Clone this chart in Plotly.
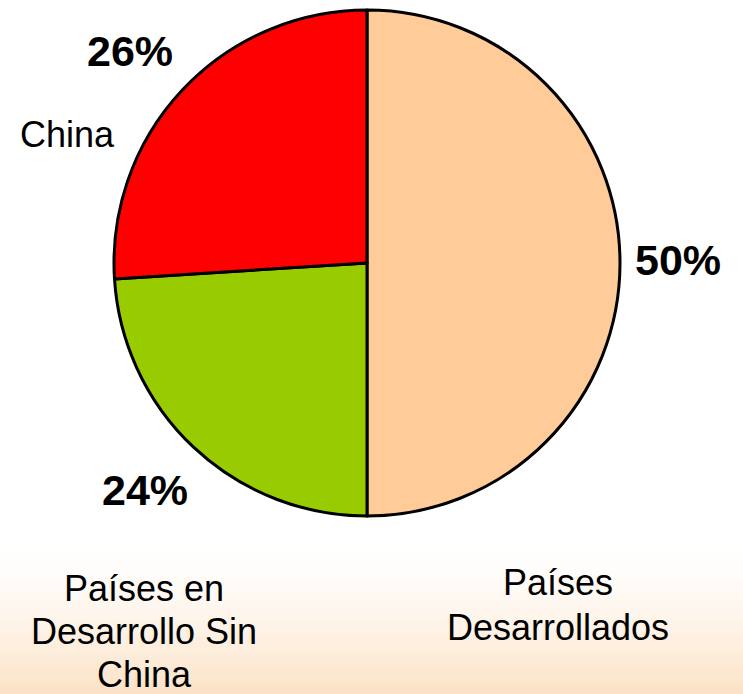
import plotly.graph_objects as go

# Data
categories = ["Países Desarrollados", "Países en Desarrollo Sin China", "China"]
values = [50, 24, 26]
pct_labels = ["50%", "24%", "26%"]
colors = ["#FFCC99", "#99CC00", "#FF0000"]

W, H = 743, 694

fig = go.Figure()
cx, cy, r = 367, 263, 253
fig.add_trace(go.Pie(
    labels=categories,
    values=values,
    sort=False,
    direction="clockwise",
    rotation=0,
    marker=dict(colors=colors, line=dict(color="#000000", width=3)),
    textinfo="none",
    hoverinfo="label+percent",
    showlegend=False,
    domain=dict(x=[(cx - r) / W, (cx + r) / W], y=[1 - (cy + r) / H, 1 - (cy - r) / H]),
))

def px(x):
    return x / W

def py(y):
    return 1 - y / H

annotations = []
# percentage labels (bold)
pct_pos = [(678, 260), (145, 490), (130, 51)]
for t, (x, y) in zip(pct_labels, pct_pos):
    annotations.append(dict(x=px(x), y=py(y), xref="paper", yref="paper", text=f"<b>{t}</b>",
                            showarrow=False, xanchor="center", yanchor="middle",
                            font=dict(family="Arial, Liberation Sans, sans-serif", size=43, color="#000000")))

# category labels, line by line
cat_lines = {
    0: (["Países", "Desarrollados"], 558, [582.5, 627.5]),
    1: (["Países en", "Desarrollo Sin", "China"], 144, [588.5, 631.5, 674.5]),
    2: (["China"], 67, [135]),
}
for i, (lines, x, ys) in cat_lines.items():
    for ln, y in zip(lines, ys):
        annotations.append(dict(x=px(x), y=py(y), xref="paper", yref="paper", text=ln,
                                showarrow=False, xanchor="center", yanchor="middle",
                                font=dict(family="Arial, Liberation Sans, sans-serif", size=36, color="#000000")))

# soft warm gradient at bottom of background
shapes = []
y0, y1 = 540, 694
n = 50
top = (255, 255, 255)
bot = (251, 226, 198)
for k in range(n):
    a = (k + 0.5) / n
    a2 = a ** 1.5
    c = tuple(round(top[j] + (bot[j] - top[j]) * a2) for j in range(3))
    ya = y0 + (y1 - y0) * k / n
    yb = y0 + (y1 - y0) * (k + 1) / n + 0.5
    shapes.append(dict(type="rect", xref="paper", yref="paper", x0=0, x1=1,
                       y0=py(yb), y1=py(ya), fillcolor=f"rgb{c}", line=dict(width=0), layer="below"))

fig.update_layout(
    width=W, height=H,
    margin=dict(l=0, r=0, t=0, b=0),
    paper_bgcolor="#FFFFFF",
    plot_bgcolor="#FFFFFF",
    annotations=annotations,
    shapes=shapes,
)

fig.write_html("out.html", config={"displayModeBar": False},
               post_script="document.body.style.margin='0';document.body.style.overflow='hidden';")
